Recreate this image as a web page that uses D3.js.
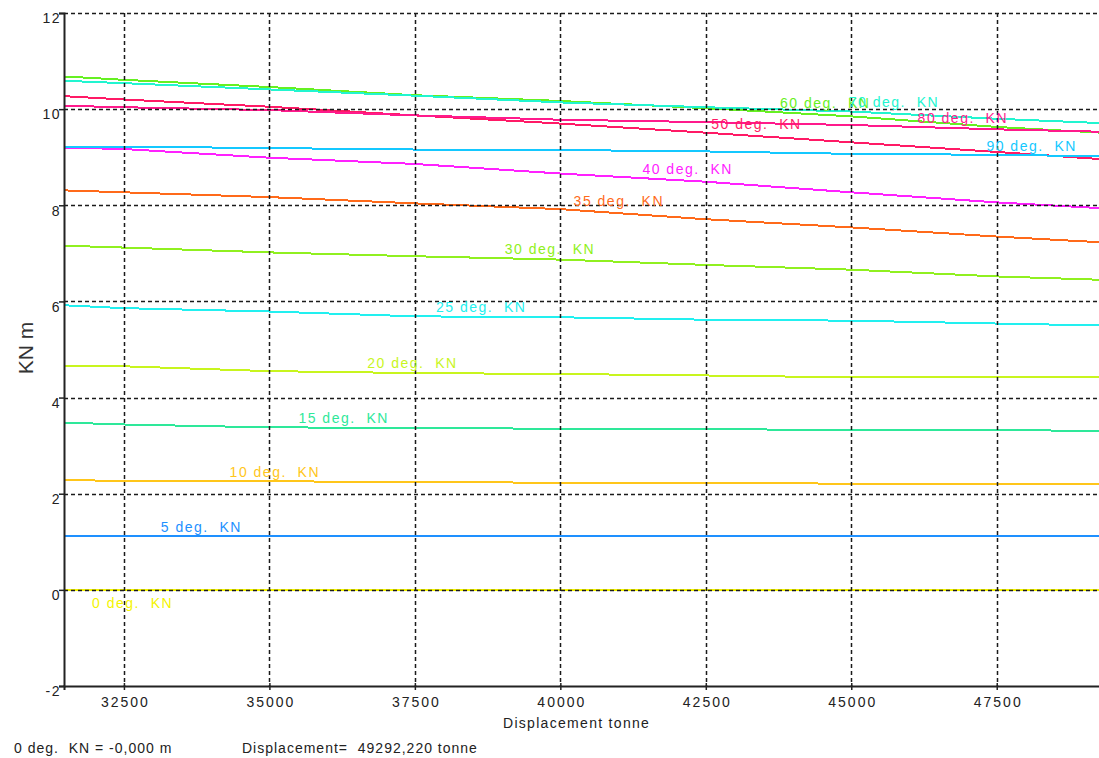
<!DOCTYPE html>
<html><head><meta charset="utf-8">
<script src="https://cdn.jsdelivr.net/npm/d3@7"></script>
<style>
body{margin:0;background:#fff;overflow:hidden}
text{font-family:Arial,"Liberation Sans",sans-serif}
</style>
</head><body><svg id="c" width="1099" height="758"></svg>
<script>
// ---- data ----
const displacement = [31470, 32500, 35000, 37500, 40000, 42500, 45000, 47500, 49292];
const kn0  = [0, 0, 0, 0, 0, 0, 0, 0, 0];
const kn5  = [1.13, 1.13, 1.12, 1.12, 1.12, 1.11, 1.11, 1.11, 1.11];
const kn10 = [2.28, 2.27, 2.26, 2.24, 2.23, 2.22, 2.21, 2.20, 2.20];
const kn15 = [3.48, 3.44, 3.38, 3.37, 3.35, 3.34, 3.33, 3.32, 3.31];
const kn20 = [4.65, 4.65, 4.55, 4.51, 4.49, 4.46, 4.42, 4.42, 4.42];
const kn25 = [5.92, 5.86, 5.79, 5.69, 5.67, 5.62, 5.60, 5.54, 5.50];
const kn30 = [7.16, 7.12, 7.02, 6.94, 6.87, 6.76, 6.66, 6.52, 6.45];
const kn35 = [8.31, 8.27, 8.17, 8.04, 7.92, 7.71, 7.54, 7.35, 7.23];
const kn40 = [9.20, 9.17, 8.99, 8.86, 8.66, 8.49, 8.27, 8.06, 7.94];
const kn50 = [10.27, 10.20, 10.05, 9.87, 9.70, 9.51, 9.31, 9.11, 8.96];
const kn60 = [10.68, 10.61, 10.46, 10.29, 10.17, 10.02, 9.85, 9.63, 9.51];
const kn70 = [10.59, 10.54, 10.41, 10.28, 10.14, 10.04, 9.95, 9.80, 9.71];
const kn80 = [10.07, 10.04, 9.98, 9.87, 9.78, 9.73, 9.67, 9.58, 9.53];
const kn90 = [9.22, 9.22, 9.19, 9.16, 9.15, 9.12, 9.07, 9.05, 9.02];
const seriesLabels = ["0 deg.  KN","5 deg.  KN","10 deg.  KN","15 deg.  KN","20 deg.  KN","25 deg.  KN","30 deg.  KN","35 deg.  KN","40 deg.  KN","50 deg.  KN","60 deg.  KN","70 deg.  KN","80 deg.  KN","90 deg.  KN"];
const seriesValues = [kn0, kn5, kn10, kn15, kn20, kn25, kn30, kn35, kn40, kn50, kn60, kn70, kn80, kn90];
const xTicks = [32500, 35000, 37500, 40000, 42500, 45000, 47500];
const yTicks = [-2, 0, 2, 4, 6, 8, 10, 12];
const xTitle = "Displacement tonne";
const yTitle = "KN m";
const footLeft = "0 deg.  KN = -0,000 m";
const footRight = "Displacement=  49292,220 tonne";

// ---- style ----
const colors = ["#f4f400","#1e90ff","#ffc61a","#2ee89a","#c8f51e","#22f0f0","#90f020","#ff6a1a","#ff22ff","#ff1a66","#66f022","#22f5d0","#ff1a8c","#14c8ff"];
const svg = d3.select("#c");
const x = d3.scaleLinear().domain([31470, 49292]).range([64, 1101]);
const y = d3.scaleLinear().domain([-2, 12]).range([686, 13]);

// lines
const line = d3.line().x((d,i)=>x(displacement[i])).y(d=>y(d));
const gLines = svg.append("g");
seriesValues.forEach((vals, i) => {
  gLines.append("path").datum(vals).attr("d", line)
    .attr("fill","none").attr("stroke", colors[i]).attr("stroke-width", 2)
    .attr("shape-rendering","crispEdges");
});

// grid (drawn over lines)
const gGrid = svg.append("g").attr("stroke","#1a1a1a").attr("stroke-width",1.5).attr("stroke-dasharray","4,3");
gGrid.selectAll("line.v").data(xTicks).join("line")
  .attr("x1", d=>Math.round(x(d))+0.5).attr("x2", d=>Math.round(x(d))+0.5)
  .attr("y1", 13).attr("y2", 686);
gGrid.selectAll("line.h").data(yTicks.filter(d=>d>-2)).join("line")
  .attr("x1", 64).attr("x2", 1099)
  .attr("y1", d=>Math.round(y(d))+0.5).attr("y2", d=>Math.round(y(d))+0.5);

// axes
const yAxis = d3.axisLeft(y).tickValues(yTicks).tickSize(5).tickFormat(d=>String(d));
const gy = svg.append("g").attr("transform","translate(64,0)").call(yAxis);
gy.select(".domain").attr("stroke","#222").attr("stroke-width",2);
gy.selectAll(".tick line").attr("stroke","#222").attr("stroke-width",1.5);
gy.selectAll(".tick text").attr("font-size",14).attr("fill","#222").attr("letter-spacing","1.5px")
  .attr("x",-3).attr("dy","0.7em").style("font-family","Arial, 'Liberation Sans', sans-serif");

const xAxis = d3.axisBottom(x).tickValues(xTicks).tickSize(4).tickFormat(d=>String(d));
const gx = svg.append("g").attr("transform","translate(0,686)").call(xAxis);
gx.select(".domain").attr("stroke","#222").attr("stroke-width",2);
gx.selectAll(".tick line").attr("stroke","#222").attr("stroke-width",1.5).attr("y1",-3);
gx.selectAll(".tick text").attr("font-size",14).attr("fill","#222").attr("letter-spacing","2px")
  .attr("y",11).attr("dx","1px").style("font-family","Arial, 'Liberation Sans', sans-serif");

// series labels
const gLab = svg.append("g").attr("font-size",14).attr("letter-spacing","1.5px");
seriesValues.forEach((vals, i) => {
  const lx = 92 + i*68.8;
  const interp = d3.scaleLinear().domain(displacement).range(vals);
  const ly = y(interp(x.invert(lx)));
  gLab.append("text").attr("x", lx).attr("y", i===0 ? ly+18 : ly-4)
    .attr("fill", colors[i]).style("white-space","pre").text(seriesLabels[i]);
});

// titles
svg.append("text").attr("x",503).attr("y",728).attr("font-size",14).attr("letter-spacing","1.3px")
  .attr("fill","#222").text(xTitle);
svg.append("text").attr("transform","translate(33,348) rotate(-90)").attr("text-anchor","middle")
  .attr("font-size",21).attr("fill","#333").style("white-space","pre").text(yTitle);
svg.append("text").attr("x",14).attr("y",753).attr("font-size",14).attr("letter-spacing","1px")
  .attr("fill","#222").style("white-space","pre").text(footLeft);
svg.append("text").attr("x",242).attr("y",753).attr("font-size",14).attr("letter-spacing","1px")
  .attr("fill","#222").style("white-space","pre").text(footRight);
</script></body></html>
